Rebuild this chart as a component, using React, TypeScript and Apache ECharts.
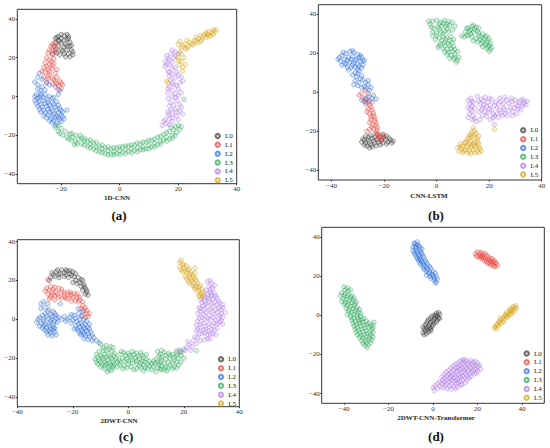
import React, { useEffect, useRef } from "react";
import * as echarts from "echarts";

const labels = ["L0", "L1", "L2", "L3", "L4", "L5"];
const colors = ["#3a3a3a", "#e8453f", "#2f6fd8", "#2fa85c", "#b07ae8", "#d6a216"];
const panelTitles = ["1D-CNN", "CNN-LSTM", "2DWT-CNN", "2DWT-CNN-Transformer"];
const panelTags = ["(a)", "(b)", "(c)", "(d)"];

const xRanges = [[-35, 40], [-45, 40], [-40, 40], [-50, 50]];
const yRanges = [[-45, 45], [-45, 45], [-45, 41], [-45, 45]];
const xTicks = [[-20, 0, 20, 40], [-40, -20, 0, 20, 40], [-40, -20, 0, 20, 40], [-40, -20, 0, 20, 40]];
const yTicks = [[-40, -20, 0, 20, 40], [-40, -20, 0, 20, 40], [-40, -20, 0, 20, 40], [-40, -20, 0, 20, 40]];

// ---------- (a) 1D-CNN ----------
const a_L0 = [[-21,31],[-20,32],[-19,31.5],[-18,32],[-17.5,30],[-19,29],[-21,29],[-22,28],[-20,27.5],[-18.5,27],[-17,28],[-17,26],[-19,25.5],[-21,26],[-20,24],[-18,24],[-16.5,24],[-17.5,22],[-19,22],[-16,21.5],[-17,20.5],[-22,24],[-23,22],[-21.5,22.5],[-20,30],[-18,29.5],[-16.5,26.5],[-22.5,26],[-20.5,28.5],[-18,26],[-19.5,23.5],[-17.5,31],[-21.5,30.5],[-16,23],[-18.5,20.5],[-20.5,21.5],[-22,30]];
const a_L1 = [[-22,27],[-23.5,26],[-21.5,25],[-23,24],[-24.5,22.5],[-23,21.5],[-25,20],[-24,19],[-22.5,19.5],[-25.5,17.5],[-24,16.5],[-22.5,17],[-26,15],[-24.5,14],[-23,14.5],[-25.5,12.5],[-24,11.5],[-22,12],[-26,10],[-24.5,9],[-23,9.5],[-21.5,10],[-22,7.5],[-20.5,8],[-19.5,6],[-21,5.5],[-20,4],[-23,6.5],[-25,7.5],[-21.5,14],[-23,27],[-22,23],[-24,24],[-23.5,18],[-25,15.5],[-23,16],[-24.5,10.5],[-22.5,8.5],[-20,7],[-21,3.5],[-24,13],[-26.5,13],[-21.5,6.5]];
const a_L2 = [[-27.5,12],[-28,10],[-26.5,9],[-25,7],[-24,6],[-22,5],[-20.5,3],[-21,1],[-28,6],[-28,4],[-27,3],[-25.5,3.5],[-28.5,1],[-27,0.5],[-25.5,1],[-24,0],[-22.5,-0.5],[-29,-2],[-27.5,-2.5],[-26,-2],[-24.5,-3],[-23,-3],[-21.5,-2.5],[-28,-5],[-26.5,-5.5],[-25,-5],[-23.5,-6],[-22,-5.5],[-20.5,-6],[-27,-8],[-25.5,-8.5],[-24,-8],[-22.5,-9],[-21,-8.5],[-19.5,-8],[-18,-7],[-25,-11],[-23.5,-11.5],[-22,-11],[-20.5,-12],[-19.5,-10.5],[-23,-13.5],[-21.5,-14],[-20,-13],[-29,0],[-27.5,-0.5],[-26,-0.5],[-24.5,-1.5],[-23,-1],[-28.5,-3.5],[-27,-4],[-25.5,-3.5],[-24,-4.5],[-22.5,-4],[-21,-4.5],[-27.5,-6.5],[-26,-7],[-24.5,-6.5],[-23,-7.5],[-21.5,-7],[-20,-7],[-26,-10],[-24.5,-9.5],[-23,-10],[-21.5,-10],[-20,-9.5],[-24,-12.5],[-22.5,-12.5],[-21,-11],[-26.5,5],[-29,7.5],[-27,1.5],[-28,-1],[-19,-11.5],[-22,-15]];
const a_L3 = [[-22,-16],[-21,-18],[-20,-16.5],[-19.5,-20],[-18.5,-18],[-17.5,-22],[-17,-19.5],[-16,-21],[-15,-23.5],[-15,-20],[-14,-22],[-13,-24.5],[-13,-21.5],[-12,-23],[-11,-26],[-11,-23],[-10,-24.5],[-9,-27],[-9,-24],[-8,-26],[-7,-28.5],[-7,-25.5],[-6,-27],[-5,-29.5],[-5,-26.5],[-4,-28],[-3,-30],[-3,-27],[-2,-28.5],[-1,-29.5],[-1,-26.5],[0,-28],[1,-29],[1,-26],[2,-27.5],[3,-28.5],[3,-25.5],[4,-27],[5,-28],[5,-25],[6,-26.5],[7,-27.5],[7,-24.5],[8,-26],[9,-27],[9,-23.5],[10,-25],[11,-26],[11,-22.5],[12,-24],[13,-25],[13,-21],[14,-23],[15,-22.5],[15,-19.5],[16,-21],[17,-22],[17,-18],[18,-20],[18.5,-17],[19.5,-18.5],[20,-15],[19,-15.5],[22,-1.5],[-21,-15],[-20.5,-19],[-18,-21],[-16.5,-22.5],[-16.5,-19],[-14.5,-24.5],[-13.5,-20],[-12,-25],[-12,-21.5],[-10,-26.5],[-10,-22.5],[-8,-28],[-8,-23.5],[-6,-29],[-6,-25],[-4,-30],[-4,-26],[-2,-30],[-2,-26.5],[0,-30],[0,-26],[2,-29.5],[2,-25.5],[4,-29],[4,-25],[6,-28.5],[6,-24],[8,-27.5],[8,-23.5],[10,-27],[10,-22.5],[12,-26],[12,-22],[14,-24.5],[14,-20.5],[16,-23],[16,-18.5],[18,-21.5],[19,-20],[20.5,-17],[21,-15.5],[17.5,-16],[-15.5,-25]];
const a_L4 = [[14.5,-15],[16,-14],[15.5,-12],[17,-11.5],[16.5,-9.5],[18,-9],[19.5,-10],[17.5,-7],[19,-6.5],[20.5,-7.5],[18.5,-4.5],[20.5,-4],[17.5,-3],[19.5,-2],[16.5,-1],[18,0],[20,0.5],[16.5,2],[18,3],[20,4],[17,5],[18.5,6],[20.5,7],[17.5,8.5],[19,9.5],[21,10],[18,11.5],[19.5,12.5],[16.5,13],[18,14.5],[15.5,15.5],[17,16.5],[15.5,18],[17,19],[18.5,20],[17.5,22],[19,23],[16,21],[20,-12],[18,-13],[17,-14.5],[15,-13],[18,-11],[19.5,-8],[16.5,-8],[21,-5.5],[17,-5],[19,-0.5],[21,2],[19,1.5],[16.5,4],[19.5,5.5],[21.5,8],[18,7],[20,11],[17,10.5],[19,15],[17,12.5],[16,16.5],[18,17.5],[16.5,19.5],[19,21],[18,24],[20,22],[21.5,-9]];
const a_L5 = [[20,27],[21,25],[20.5,23],[22,27],[22.5,24.5],[23.5,26],[24,28],[25,26.5],[25.5,29],[26.5,27.5],[27,30],[28,29],[28.5,31],[29.5,30.5],[30,32],[31,31.5],[31.5,33],[32.5,33.5],[33,34.5],[30.5,33.5],[23,29],[26,30.5],[20,20],[21,18],[21.5,15],[20.5,16.5],[16,8],[16.5,7],[21.5,26],[23,25],[24.5,27],[26,28.5],[27.5,28.5],[29,32],[30.5,31],[32,32],[32,34.5],[29.5,33],[27.5,31.5],[21,22],[22,20],[20,18.5],[21.5,13],[22.5,16.5],[20.5,28.5]];

// ---------- (b) CNN-LSTM ----------
const b_L0 = [[-28,-24],[-27,-22.5],[-27,-26],[-26,-24.5],[-25,-22],[-25,-27],[-24,-25],[-23.5,-23],[-23,-27.5],[-22,-25.5],[-21.5,-23],[-20.5,-21.5],[-20.5,-26],[-19.5,-24],[-19,-22.5],[-18.5,-25.5],[-17.5,-24.5],[-17,-26],[-26.5,-27.5],[-24.5,-28],[-28.5,-25.5],[-22.5,-21.5],[-27.5,-24.5],[-26,-23],[-25.5,-25.5],[-24.5,-23.5],[-23.5,-26],[-22.5,-24],[-21.5,-27],[-21,-24.5],[-20,-23],[-19,-26.5],[-18,-23.5],[-16.5,-25],[-25.5,-28.5],[-27.5,-27]];
const b_L1 = [[-27,1],[-26,-0.5],[-29.5,-1.5],[-28,-3],[-26.5,-3.5],[-27,-6],[-25.5,-6.5],[-24.5,-5],[-26,-8.5],[-24.5,-9],[-25.5,-11],[-24,-12],[-25,-14],[-23.5,-14.5],[-24.5,-16.5],[-23,-17],[-24,-19],[-22.5,-19.5],[-23,-21.5],[-21.5,-22],[-20.5,-23.5],[-22,-24],[-26.5,-20],[-25,-12.5],[-28.5,-0.5],[-27.5,-4.5],[-26,-5],[-25,-7.5],[-26.5,-10],[-24,-10.5],[-23.5,-13],[-25.5,-15.5],[-23,-15.5],[-24.5,-18],[-22.5,-18],[-23,-20.5],[-22,-22.5],[-21,-25],[-20,-22],[-25.5,-19]];
const b_L2 = [[-36,19],[-34.5,20],[-33,21],[-31.5,20.5],[-30,19.5],[-28.5,18],[-27.5,16.5],[-35,17],[-33.5,18],[-32,18.5],[-30.5,17],[-29,16],[-36.5,16],[-35,15],[-33,15.5],[-31.5,15],[-30,14.5],[-28,14],[-34,13],[-32.5,12.5],[-31,13],[-31,10],[-29.5,11],[-30.5,8],[-29,7],[-31,6],[-29.5,5],[-28,6.5],[-27,5],[-26,4],[-27.5,3],[-25,2.5],[-26,-2],[-24.5,-3],[-23,-3.5],[-25.5,-4.5],[-27,-5],[-28.5,-4],[-35.5,20.5],[-32,21.5],[-29,19],[-28,16],[-34,16.5],[-32.5,17],[-31,16.5],[-29.5,18],[-36,14],[-34.5,14.5],[-32,14],[-29.5,13.5],[-33.5,11.5],[-30,12],[-28.5,12.5],[-32,9],[-30,9.5],[-28.5,8.5],[-31.5,4],[-30,3.5],[-28.5,2.5],[-27,2],[-25.5,1],[-27,-3],[-24,-1.5],[-26,6],[-37,18],[-37.5,17]];
const b_L3 = [[-2.5,35],[-1.5,36.5],[0,37],[1.5,36],[3,37],[4.5,36.5],[2,34],[-1,33],[0.5,33.5],[3.5,34],[5,34.5],[7,34],[0,30.5],[1.5,31],[3,31.5],[4.5,31],[1,28],[2.5,28.5],[4,28],[5.5,28.5],[1.5,25],[3,25.5],[4.5,25],[6,25.5],[2.5,22.5],[4,22],[5.5,22.5],[7,22],[4,19.5],[5.5,19],[7,19.5],[6.5,17],[8,16.5],[0.5,23],[-0.5,27],[12,33],[13.5,34],[15,33.5],[11,31],[12.5,31.5],[14,31],[15.5,31.5],[10.5,28.5],[12,29],[13.5,28.5],[16,29],[17.5,30],[19,29],[16.5,27],[18,27.5],[19.5,26.5],[17,25],[18.5,24.5],[20,24],[19,22.5],[20.5,22],[15,27.5],[14,26.5],[-2,33.5],[-3,36.5],[1,35],[2.5,35.5],[4,35],[6,36],[-1.5,31],[1,32.5],[2.5,30],[4,32.5],[6,32],[0,29],[2,26.5],[3.5,27],[5,26.5],[6.5,27],[1,24],[3,24],[5,24],[6.5,23.5],[3,21],[4.5,20.5],[6,21],[8,21],[5,17.5],[7,18],[8.5,18],[7.5,15.5],[-1.5,29],[11.5,33],[13,32],[14.5,32.5],[16,33],[14,34.5],[16,30.5],[11.5,29.5],[13,30],[17,28.5],[18.5,28.5],[20,27.5],[15.5,26],[17.5,26],[19,25.5],[20.5,25],[17.5,23.5],[19.5,23.5],[21,23],[20,21],[9.5,29]];
const b_L4 = [[13,-3],[12.5,-6],[14,-5],[13,-8.5],[14.5,-8],[12.5,-11],[14,-12],[13.5,-14],[15.5,-2],[17,-3.5],[18.5,-2.5],[16.5,-6],[18,-6.5],[19.5,-5],[17,-9],[18.5,-10],[20,-8.5],[19,-12.5],[20.5,-14],[21.5,-11],[21,-3.5],[22.5,-5],[23,-8],[22,-6.5],[24,-3],[24.5,-10.5],[23.5,-13],[25.5,-6],[26,-9],[26.5,-4],[27,-12],[28,-7.5],[28.5,-4.5],[29,-10],[30,-6],[31,-8.5],[31.5,-5],[32.5,-7],[33.5,-5],[34,-6.5],[33,-3.5],[30.5,-11],[25,-12],[22,-16.5],[13.5,-4.5],[12,-4],[13.5,-7],[12,-8],[13.5,-10],[12,-13],[14.5,-13.5],[15,-15],[16,-4.5],[18,-4.5],[20,-3],[17.5,-8],[19,-7.5],[20.5,-6.5],[16,-10],[17.5,-12],[19.5,-10.5],[21,-9],[21.5,-13],[22,-12],[23.5,-6],[24,-9],[24.5,-4.5],[23,-11],[25.5,-8],[26,-11],[26,-2.5],[27.5,-5.5],[27.5,-9.5],[28.5,-3],[29.5,-8],[30,-4],[31,-7],[32,-4],[33,-6],[34.5,-4.5],[32,-9],[29,-12],[16.5,-14]];
const b_L5 = [[14,-18],[13.5,-20],[15,-21],[12.5,-22],[14,-23],[15.5,-23.5],[11.5,-24.5],[13,-25],[14.5,-25.5],[16,-26],[9,-26.5],[10.5,-26],[12,-27],[13.5,-27.5],[15,-28],[8,-28.5],[9.5,-29],[11,-29.5],[12.5,-30],[14,-29.5],[15.5,-30],[16.5,-29],[10,-31],[13,-31.5],[22,-19],[14.5,-19.5],[13,-21.5],[14.5,-22],[16,-22.5],[12,-23.5],[13,-23],[12.5,-26],[11,-25.5],[14,-26.5],[15.5,-25],[10,-27.5],[11.5,-28],[13,-28.5],[14.5,-27],[16,-27.5],[9,-28],[10.5,-30],[12,-31],[14.5,-31],[16,-31],[17,-30],[8.5,-30.5]];

// ---------- (c) 2DWT-CNN ----------
const c_L0 = [[-28,21.5],[-27,23],[-26,24.5],[-25,23],[-24,25.5],[-23,24],[-22,25],[-21,23.5],[-20,24.5],[-21.5,21.5],[-19.5,22],[-19,20],[-18,21.5],[-17.5,19],[-16.5,20],[-17,17],[-16,18],[-15.5,16],[-16.5,15],[-15,14],[-15.5,13],[-23,22],[-25,21.5],[-20,19],[-27.5,24],[-25.5,25.5],[-24.5,23.5],[-22.5,25.5],[-22.5,23],[-21,25],[-20.5,22.5],[-19,23.5],[-18.5,18.5],[-17,20.5],[-16,17],[-15,15],[-14.5,12.5],[-26.5,22],[-28.5,20]];
const c_L1 = [[-29,20.5],[-29.5,16],[-28,17],[-27,15.5],[-29,13],[-27.5,12.5],[-26,14],[-25,16],[-24,14],[-25,11.5],[-23,12],[-22,14],[-21,12.5],[-20,11],[-19.5,13.5],[-18.5,11.5],[-17.5,10],[-19,9.5],[-22,10.5],[-16.5,7],[-15.5,6],[-16,4.5],[-15,3],[-16.5,2],[-14.5,1.5],[-26.5,10],[-28.5,10.5],[-30,14.5],[-28.5,15],[-27.5,14],[-26.5,16.5],[-28,11.5],[-26.5,12],[-25.5,13],[-24,15.5],[-23,13.5],[-24,11],[-22.5,11],[-21,14],[-20.5,12.5],[-18.5,13],[-17.5,11.5],[-18,9],[-20.5,9.5],[-16.5,9],[-17,5.5],[-15,4.5],[-15.5,1],[-14,3]];
const c_L2 = [[-30.5,9],[-29,8],[-30,6],[-28.5,5],[-30,3],[-28,2.5],[-26.5,3],[-32,1],[-30.5,0],[-29,0.5],[-27.5,0],[-26,0.5],[-33,-1.5],[-31.5,-2],[-30,-2.5],[-28.5,-2],[-27,-2.5],[-25.5,-1.5],[-31,-4.5],[-29.5,-4],[-28,-5],[-26.5,-4.5],[-29.5,-6.5],[-28,-7],[-26.5,-6.5],[-27.5,-8.5],[-24.5,8],[-24,0],[-22.5,-1],[-23,1.5],[-21,1],[-19.5,2],[-18,3],[-17,1.5],[-16,0],[-20,-0.5],[-18.5,-1],[-17,-2],[-15.5,-2.5],[-19,-3.5],[-17.5,-4],[-16,-4.5],[-14.5,-4],[-18,-6],[-16.5,-6.5],[-15,-6],[-13.5,-6.5],[-17,-8],[-15.5,-8.5],[-14,-9],[-12.5,-9.5],[-11.5,-11],[-10.5,-12],[-31.5,8],[-31.5,5.5],[-29,4],[-27,4],[-31,2],[-29.5,1.5],[-27.5,1.5],[-26,2],[-32.5,0],[-30.5,-1],[-28,-1],[-26.5,-1],[-32,-3.5],[-30.5,-3.5],[-28.5,-3.5],[-27,-4],[-30,-5.5],[-28.5,-6],[-27,-5.5],[-29,-8],[-26,-8],[-25,1],[-22,0],[-20.5,2.5],[-19,0.5],[-17.5,0],[-15,-1],[-20.5,-2],[-18,-2.5],[-16.5,-3],[-14,-2.5],[-18.5,-5],[-17,-5.5],[-15.5,-5],[-14,-5],[-17.5,-7.5],[-16,-7.5],[-14.5,-7.5],[-13,-8],[-16,-10],[-14.5,-10.5],[-13,-11],[-19.5,-5],[-16.5,4],[-18,5.5]];
const c_L3 = [[-10,-13],[-8,-13.5],[-9,-16],[-7,-15.5],[-5.5,-14.5],[-11.5,-18],[-10,-18.5],[-8.5,-18],[-7,-18.5],[-5,-17.5],[-12,-20.5],[-10.5,-21],[-9,-20.5],[-7.5,-21],[-6,-20.5],[-4.5,-20],[-11,-23],[-9.5,-23.5],[-8,-23],[-6.5,-23.5],[-5,-23],[-8.5,-25.5],[-7,-26],[-5.5,-25],[-3,-18],[-1.5,-17],[0,-17.5],[1.5,-16.5],[3,-17.5],[4.5,-17],[-3.5,-21],[-2,-20],[-0.5,-20.5],[1,-19.5],[2.5,-20],[4,-20.5],[5.5,-19.5],[-3,-23.5],[-1.5,-24],[0,-23],[1.5,-22.5],[3,-23],[4.5,-22.5],[6,-22],[7.5,-21.5],[3,-25.5],[4.5,-25],[6,-25],[7.5,-24],[9,-21.5],[10.5,-22],[12,-21],[9,-24.5],[10.5,-25],[12,-24],[13.5,-24.5],[15,-23.5],[16.5,-24.5],[18,-23.5],[11.5,-18],[13,-17],[14.5,-17.5],[16,-18],[17.5,-17],[18.5,-16],[13.5,-20.5],[15,-20],[16.5,-21],[18,-20],[19,-18.5],[12,-26],[14,-26.5],[10,-27],[24.5,-16],[-9,-14.5],[-6.5,-14],[-8,-16],[-6,-16.5],[-10.5,-16.5],[-11,-19.5],[-9.5,-19.5],[-8,-19.5],[-6.5,-19.5],[-5,-19],[-11.5,-22],[-10,-22],[-8.5,-22],[-7,-22.5],[-5.5,-22],[-4,-22],[-10,-24.5],[-8.5,-24],[-7,-24.5],[-5.5,-24],[-4,-24.5],[-7.5,-27],[-6,-26.5],[-2.5,-16.5],[-1,-18.5],[0.5,-18.5],[2,-18],[3.5,-19],[5,-18.5],[6.5,-18],[-3,-22],[-1.5,-21.5],[0,-21.5],[1.5,-21],[3,-21.5],[5,-21.5],[6.5,-20.5],[-2,-25.5],[-0.5,-25],[1,-24.5],[2,-26],[4,-24],[5.5,-23.5],[7,-23],[5.5,-26.5],[7,-25.5],[8.5,-23],[8.5,-26],[9.5,-22.5],[10,-20.5],[11,-23.5],[11.5,-22],[11.5,-25.5],[13,-23],[13,-26],[14.5,-22],[14.5,-25],[16,-22.5],[16,-25.5],[17.5,-22],[17.5,-25],[19,-22],[12,-19.5],[13.5,-18.5],[15,-18.5],[16.5,-19.5],[17.5,-18.5],[19,-17],[10.5,-16.5],[12,-16],[20,-20],[20,-15.5],[11,-19]];
const c_L4 = [[28.5,19.5],[30,18.5],[29,17],[30.5,16],[28,15],[29.5,14],[31,13.5],[27,12.5],[28.5,11.5],[30,12],[32,11],[26,10],[27.5,9.5],[29,9],[31,9],[33,8.5],[34,6],[32.5,6],[30.5,6.5],[28.5,6.5],[27,7],[25.5,6],[26,4],[28,3.5],[30,4],[32,3.5],[33.5,3],[34,1],[32.5,0.5],[30.5,1],[28.5,0.5],[26.5,1],[25,-1],[27,-2],[29,-2.5],[31,-2],[33,-1.5],[32,-4.5],[30,-5],[28,-5],[26,-4.5],[24.5,-6],[26.5,-7.5],[28.5,-8],[30.5,-7.5],[29.5,-10],[27.5,-10.5],[25,-9.5],[23.5,-11],[22,-13],[21,-14.5],[20.5,-16],[22.5,-16],[19,-16.5],[17.5,-16],[29.5,20],[31,17.5],[29.5,15.5],[28.5,13],[30,13],[31.5,12],[27.5,11],[29,10.5],[30.5,10.5],[32.5,9.5],[26.5,8.5],[28,8],[30,8],[32,7.5],[34,7.5],[33.5,5],[31.5,5],[29.5,5],[27.5,5],[26,5.5],[25,3],[27,2.5],[29,2],[31,2.5],[33,2],[35,3.5],[33.5,-0.5],[31.5,-0.5],[29.5,0],[27.5,0],[25.5,0.5],[24.5,-3],[26,-2.5],[28,-3.5],[30,-3],[32,-2.5],[34,-2.5],[31,-5.5],[29,-6],[27,-5.5],[25,-5],[25.5,-7.5],[27.5,-7],[29.5,-7.5],[31.5,-8],[28.5,-10],[26,-11],[24,-9],[24.5,-12.5],[23,-14],[21.5,-11.5]];
const c_L5 = [[18.5,29.5],[19.5,28.5],[18.5,27],[20,26.5],[21,27.5],[22,26],[19.5,24.5],[21,24],[22.5,24],[20.5,22],[22,21.5],[23.5,22],[21.5,19.5],[23,19.5],[24.5,20],[23,17.5],[24.5,17],[26,17.5],[24,15.5],[25.5,15],[26.5,13],[25.5,12],[26.5,11],[24,26.5],[19,30.5],[20,28],[19,25.5],[20.5,25],[21.5,25.5],[22,23],[23,23],[24,24],[21,21],[22.5,20.5],[24,21],[22,18.5],[23.5,18.5],[25,18.5],[24,16.5],[25.5,16.5],[26.5,15.5],[25,14],[26,12],[27,14]];

// ---------- (d) 2DWT-CNN-Transformer ----------
const d_L0 = [[-4.5,-9],[-3,-9.5],[-4,-7],[-2.5,-7.5],[-1,-8],[-3.5,-5],[-2,-5.5],[-0.5,-6],[-2.5,-3],[-1,-3.5],[0.5,-4],[-1,-1.5],[0.5,-2],[2,-2.5],[0.5,0],[2,-0.5],[3,0.5],[3,-1.5],[1.5,1],[-1.5,-6.5],[-3.5,-8],[-2,-8.5],[-4.5,-6],[-3,-6.5],[-1,-7],[-3,-4],[-1.5,-4.5],[0,-5],[-2,-2],[0,-3],[1.5,-3.5],[-0.5,-0.5],[1,-1],[2.5,-1.5],[1.5,0],[2.5,1.5],[-4,-10]];
const d_L1 = [[19,31.5],[20,32.5],[20,30],[21.5,30],[21,32],[22.5,31],[23,29.5],[24,30.5],[24.5,28.5],[25,27],[25.5,29],[26.5,27.5],[27,26],[27.5,28],[28.5,26.5],[28,25],[26,25.5],[23,28],[22,29],[19.5,30.5],[21,31],[22,32],[22,30],[23.5,31.5],[23.5,29],[25,30],[24,27.5],[25.5,28],[26,26.5],[27,27.5],[28,27],[29,25.5],[27.5,25],[26.5,29],[21,29.5],[24.5,26.5]];
const d_L2 = [[-8.5,37],[-7,37.5],[-8,35],[-6.5,35.5],[-9,33],[-7.5,33],[-6,33.5],[-8,31],[-6.5,31],[-5,31.5],[-7,29],[-5.5,28.5],[-4,29.5],[-6,27],[-4.5,26.5],[-3,27],[-4.5,24.5],[-3,24.5],[-1.5,25],[-3,22.5],[-1.5,22],[0,22.5],[-1.5,20],[0,20],[1.5,20],[0.5,18],[1.5,17],[-5,34],[-3,20.5],[-8,36.5],[-9,35],[-7.5,34.5],[-6,35],[-8.5,32],[-7,32],[-5.5,32.5],[-7.5,30],[-6,30],[-4.5,30.5],[-6.5,28],[-5,27.5],[-3.5,28],[-5.5,26],[-4,25.5],[-2.5,26],[-4,23.5],[-2.5,23.5],[-1,24],[-2,21.5],[-0.5,21],[1,21.5],[-1,19],[0.5,19],[2,18.5],[1,16.5],[-7,36],[-6,29]];
const d_L3 = [[-40,14.5],[-38.5,14],[-37,13],[-41,11.5],[-39.5,11],[-38,10.5],[-36.5,10],[-40.5,8.5],[-39,8],[-37.5,7.5],[-36,8],[-34.5,7],[-40,5.5],[-38.5,5],[-37,4.5],[-35.5,5],[-34,4],[-38,2],[-36.5,1.5],[-35,2],[-33.5,1.5],[-37,-1],[-35.5,-1.5],[-34,-1],[-32.5,-0.5],[-36,-4],[-34.5,-4.5],[-33,-4],[-31.5,-3.5],[-30,-3],[-28.5,-4],[-27,-5],[-35,-7],[-33.5,-7.5],[-32,-7],[-30.5,-6.5],[-29,-6],[-27.5,-7.5],[-34,-10],[-32.5,-10.5],[-31,-10],[-29.5,-9.5],[-28,-10],[-32,-13],[-30.5,-13],[-29,-12.5],[-27.5,-12.5],[-30.5,-15.5],[-29,-15],[-33,-3],[-39.5,13],[-38,12.5],[-40,10],[-38.5,9.5],[-37,9],[-35.5,9],[-41,7],[-39.5,6.5],[-38,6],[-36.5,6.5],[-35,6],[-39,3.5],[-37.5,3],[-36,3.5],[-34.5,3],[-33,3],[-38.5,0.5],[-37,0],[-35.5,0.5],[-34,0],[-32.5,1],[-36.5,-2.5],[-35,-3],[-33.5,-2],[-32,-2],[-31,-1.5],[-35.5,-5.5],[-34,-6],[-32.5,-5.5],[-31,-5],[-29.5,-4.5],[-28,-5.5],[-27,-6.5],[-34.5,-8.5],[-33,-9],[-31.5,-8.5],[-30,-8],[-28.5,-8.5],[-27,-9],[-33,-11.5],[-31.5,-11.5],[-30,-11],[-28.5,-11.5],[-27,-11],[-31.5,-14.5],[-30,-14],[-28,-14],[-29.5,-16.5],[-26.5,-3.5],[-41.5,10]];
const d_L4 = [[0,-37],[0.5,-38.5],[1,-36],[2,-35],[2,-37.5],[3,-34],[3.2,-36.3],[4,-31.5],[4.3,-33.2],[4,-35],[4.5,-37.2],[5,-30.3],[5.3,-32],[5,-34],[5.5,-36],[6,-29],[6.2,-31],[6.5,-33],[6,-35],[6.3,-37.5],[7,-28],[7.2,-30],[7.5,-32.2],[7,-34],[7.5,-36.2],[8,-27],[8.3,-29.2],[8,-31],[8.5,-33],[8.2,-35.3],[8,-37.8],[9,-26],[9.3,-28],[9,-30.3],[9.5,-32],[9.2,-34],[9.5,-36.5],[10,-25],[10.3,-27],[10.5,-29],[10,-31],[10.3,-33.2],[10.5,-35],[10.2,-37.5],[11,-24.5],[11.3,-26.5],[11,-28.5],[11.5,-30.5],[11.2,-32.5],[11.5,-34.5],[11,-36.5],[12,-23.5],[12.3,-25.5],[12,-27.5],[12.5,-29.5],[12.2,-31.5],[12,-33.5],[12.5,-35.5],[13,-23],[13.3,-25],[13,-27],[13.5,-29],[13.2,-31],[13.5,-33],[13,-35.5],[14,-23.8],[14.3,-26],[14,-28],[14.5,-30],[14.2,-32],[14.5,-34.5],[15,-23],[15.3,-25],[15,-27],[15.5,-29],[15.2,-31],[15.5,-33.2],[16,-24],[16.3,-26],[16,-28],[16.5,-30],[16.2,-32],[17,-23.2],[17.3,-25],[17,-27],[17.5,-29],[17.2,-31.2],[18,-24],[18.3,-26],[18,-28],[18.5,-30],[19,-23.5],[19.3,-25.5],[19,-27.5],[19.5,-29.5],[20,-24.5],[20.3,-26.5],[20,-28.5],[21,-25.5],[21.3,-27.5],[14,-22.5]];
const d_L5 = [[27.5,-6.5],[28.5,-5],[29.5,-5.5],[29.5,-3.5],[30.5,-4],[31,-2],[32,-2.5],[32.5,-0.5],[33.5,-1],[34,1],[35,0.5],[35.5,2.5],[36.5,2],[37,4],[36,4.5],[33,1.5],[30,-1.5],[34.5,3],[28,-6],[29,-4.5],[30,-3],[31.5,-3.5],[31.5,-1],[33,-0.5],[32.5,0.5],[34,0],[34.5,2],[35.5,1.5],[36,3],[37.5,3.5],[37,5],[35,3.5],[28.5,-7]];

const panelData = [
  [a_L0, a_L1, a_L2, a_L3, a_L4, a_L5],
  [b_L0, b_L1, b_L2, b_L3, b_L4, b_L5],
  [c_L0, c_L1, c_L2, c_L3, c_L4, c_L5],
  [d_L0, d_L1, d_L2, d_L3, d_L4, d_L5],
];

// layout (pixels)
const grids = [
  { left: 17.3, top: 9.3, width: 219.4, height: 174.4 },
  { left: 318.3, top: 4.7, width: 223.4, height: 175.3 },
  { left: 17.3, top: 239.7, width: 222, height: 167 },
  { left: 321.7, top: 227.3, width: 222.6, height: 176 },
];
const legendPos = [
  { left: 214.5, top: 132.5 },
  { left: 520, top: 126.8 },
  { left: 217.8, top: 355.8 },
  { left: 523.5, top: 350 },
];
const titlePos = [
  { x: 117, y: 197.7, tx: 119, ty: 215 },
  { x: 429, y: 196, tx: 436, ty: 215 },
  { x: 119, y: 420.7, tx: 126, ty: 436 },
  { x: 436, y: 418.3, tx: 436, ty: 436 },
];

const FONT = '"Liberation Serif", "DejaVu Serif", serif';

function hexA(hex: string, a: number) {
  const r = parseInt(hex.slice(1, 3), 16);
  const g = parseInt(hex.slice(3, 5), 16);
  const b = parseInt(hex.slice(5, 7), 16);
  return `rgba(${r},${g},${b},${a})`;
}

const fmt = (v: number) => String(v).replace("-", "\u2212");

export default function App() {
  const ref = useRef<HTMLDivElement>(null);
  useEffect(() => {
    document.body.style.margin = "0";
    if (!ref.current) return;
    const chart = echarts.init(ref.current, null, { renderer: "svg" });

    const xAxis: any[] = [];
    const yAxis: any[] = [];
    const series: any[] = [];
    const graphics: any[] = [];

    for (let p = 0; p < 4; p++) {
      xAxis.push({
        type: "value",
        gridIndex: p,
        min: xRanges[p][0],
        max: xRanges[p][1],
        axisLine: { show: false, onZero: false },
        splitLine: { show: false },
        axisTick: { show: true, length: 1.5, customValues: xTicks[p], lineStyle: { color: "#333" } },
        axisLabel: {
          customValues: xTicks[p],
          fontSize: 7,
          fontFamily: FONT,
          color: "#333",
          margin: 2,
          formatter: fmt,
        },
      });
      yAxis.push({
        type: "value",
        gridIndex: p,
        min: yRanges[p][0],
        max: yRanges[p][1],
        axisLine: { show: false, onZero: false },
        splitLine: { show: false },
        axisTick: { show: true, length: 1.5, customValues: yTicks[p], lineStyle: { color: "#333" } },
        axisLabel: {
          customValues: yTicks[p],
          fontSize: 7,
          fontFamily: FONT,
          color: "#333",
          margin: 2,
          formatter: fmt,
        },
      });
      for (let i = 0; i < 6; i++) {
        series.push({
          type: "scatter",
          name: labels[i],
          xAxisIndex: p,
          yAxisIndex: p,
          data: panelData[p][i],
          symbol: "circle",
          symbolSize: 4.4,
          itemStyle: {
            color: hexA(colors[i], 0.22),
            borderColor: hexA(colors[i], 0.9),
            borderWidth: 0.6,
          },
          emphasis: { disabled: true },
        });
      }
      graphics.push({
        type: "text",
        x: titlePos[p].x,
        y: titlePos[p].y,
        style: {
          text: panelTitles[p],
          fontSize: 7,
          fontWeight: "bold",
          fontFamily: FONT,
          fill: "#222",
          align: "center",
          verticalAlign: "middle",
        },
      });
      graphics.push({
        type: "text",
        x: titlePos[p].tx,
        y: titlePos[p].ty,
        style: {
          text: panelTags[p],
          fontSize: 13,
          fontWeight: "bold",
          fontFamily: FONT,
          fill: "#111",
          align: "center",
          verticalAlign: "middle",
        },
      });
    }

    const legends = legendPos.map((lp) => ({
      orient: "vertical",
      left: lp.left,
      top: lp.top,
      padding: 0,
      itemWidth: 4.4,
      itemHeight: 4.4,
      itemGap: 1.85,
      selectedMode: false,
      icon: "circle",
      data: labels,
      textStyle: { fontSize: 7, lineHeight: 7, fontFamily: FONT, color: "#222" },
    }));

    chart.setOption({
      animation: false,
      backgroundColor: "#fff",
      grid: grids.map((g) => ({
        ...g,
        show: true,
        borderColor: "#333",
        borderWidth: 1,
        containLabel: false,
      })),
      xAxis,
      yAxis,
      legend: legends,
      series,
      graphic: graphics,
    });
    return () => chart.dispose();
  }, []);
  return <div ref={ref} style={{ width: 550, height: 448 }} />;
}
